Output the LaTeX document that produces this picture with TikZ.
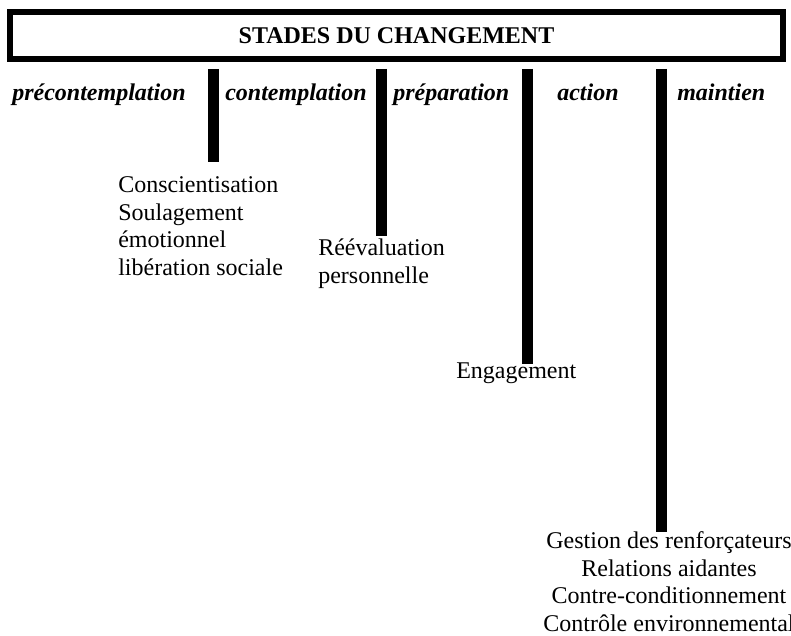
\documentclass[tikz,border=0pt]{standalone}
\usepackage{fontspec}
\setmainfont{Liberation Serif}

\begin{document}
\begin{tikzpicture}[x=0.75pt, y=-0.75pt,
  stade/.style={font=\fontsize{18}{20.7}\selectfont\bfseries\itshape, anchor=base west, inner sep=0pt},
  texte/.style={font=\fontsize{18}{20.7}\selectfont, align=left, anchor=north west, inner sep=0pt},
  barre/.style={line width=8.25pt}]
  \useasboundingbox (0,0) rectangle (791,635);
  % Title box
  \node[draw, line width=4.5pt, minimum width=579.75pt, minimum height=35.25pt, inner sep=0pt,
    font=\fontsize{18}{20.7}\selectfont\bfseries] (titre) at (396.5,35.5) {STADES DU CHANGEMENT};
  % Stages
  \node[stade] (precont) at (12,100) {précontemplation};
  \node[stade] (contemp) at (225,100) {contemplation};
  \node[stade] (prepar) at (393,100) {préparation};
  \node[stade] (action) at (557,100) {action};
  \node[stade] (maintien) at (677,100) {maintien};
  % Processes under each stage
  \node[texte] (conscient) at (118,176.6) {Conscientisation\\Soulagement\\émotionnel\\libération sociale};
  \node[texte] (reeval) at (318,238.6) {Réévaluation\\personnelle};
  \node[texte] (engag) at (456,362.6) {Engagement};
  \node[texte, align=center, anchor=north] (gestion) at (669,531.6)
    {Gestion des renforçateurs\\Relations aidantes\\Contre-conditionnement\\Contrôle environnemental};
  % Bars
  \coordinate (h1) at (213,69);   \coordinate (b1) at (213,162);
  \coordinate (h2) at (381.5,69); \coordinate (b2) at (381.5,236);
  \coordinate (h3) at (527,69);   \coordinate (b3) at (527,364);
  \coordinate (h4) at (661,69);   \coordinate (b4) at (661,532);
  \draw[barre] (h1) -- (b1);
  \draw[barre] (h2) -- (b2);
  \draw[barre] (h3) -- (b3);
  \draw[barre] (h4) -- (b4);
\end{tikzpicture}
\end{document}
